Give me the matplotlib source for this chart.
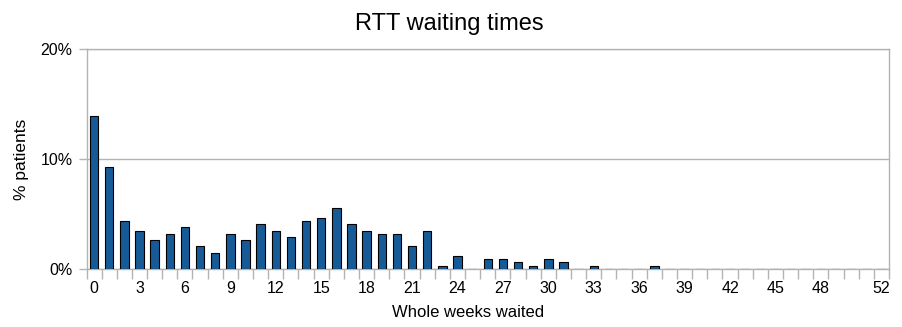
import matplotlib.pyplot as plt
from matplotlib.ticker import FixedLocator

plt.rcParams['font.family'] = ['Liberation Sans', 'DejaVu Sans']

# percentage of patients by whole weeks waited (0..52)
weeks = list(range(0, 53))
pct = [13.9, 9.27, 4.37, 3.5, 2.64, 3.19, 3.8, 2.1, 1.43, 3.19,
       2.64, 4.07, 3.5, 2.92, 4.37, 4.62, 5.53, 4.07, 3.5, 3.19,
       3.19, 2.1, 3.5, 0.27, 1.15, 0.0, 0.88, 0.88, 0.61, 0.3,
       0.88, 0.61, 0.0, 0.3, 0.0, 0.0, 0.0, 0.3] + [0.0] * 15
xtick_pos = [0, 3, 6, 9, 12, 15, 18, 21, 24, 27, 30, 33, 36, 39, 42, 45, 48, 52]
ytick_pos = [0, 10, 20]
ytick_labels = ['0%', '10%', '20%']

grey = '#b3b3b3'

fig = plt.figure(figsize=(9.02, 3.27), dpi=100)
ax = fig.add_axes([0.0959, 0.1774, 0.8897, 0.6718])

ax.bar(weeks, pct, width=0.56, color='#165b97', edgecolor='black', linewidth=0.8, zorder=3)

ax.set_xlim(-0.5, 52.5)
ax.set_ylim(0, 20)

ax.set_yticks(ytick_pos)
ax.set_yticklabels(ytick_labels)
ax.set_xticks(xtick_pos)
ax.xaxis.set_minor_locator(FixedLocator([w - 0.5 for w in weeks] + [52.5]))

ax.tick_params(axis='x', which='major', length=0, pad=9, labelsize=11.5)
ax.tick_params(axis='x', which='minor', length=7, color=grey, width=1)
ax.tick_params(axis='y', length=6, color=grey, width=1, pad=4, labelsize=11.5)

ax.yaxis.grid(True, color=grey, linewidth=1)
for s in ax.spines.values():
    s.set_color(grey)
    s.set_linewidth(1)

ax.set_title('RTT waiting times', fontsize=17, pad=14, x=0.452)
ax.set_ylabel('% patients', fontsize=12.5, labelpad=8)
ax.set_xlabel('Whole weeks waited', fontsize=12)
ax.xaxis.set_label_coords(0.476, -0.165)

fig.savefig('out.png', dpi=100)
